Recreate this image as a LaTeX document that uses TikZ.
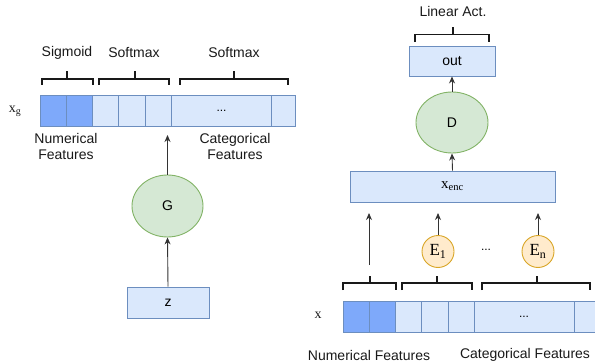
\documentclass[tikz,border=0pt]{standalone}
\usepackage{fontspec}
\setmainfont{Liberation Sans}
\newfontfamily\srf{Liberation Serif}
\usetikzlibrary{arrows.meta,shapes.geometric}
\definecolor{cellfill}{HTML}{DAE8FC}
\definecolor{celldraw}{HTML}{6C8EBF}
\definecolor{darkfill}{HTML}{7EA9FA}
\definecolor{gfill}{HTML}{D5E8D4}
\definecolor{gdraw}{HTML}{82B366}
\definecolor{efill}{HTML}{FFEBCC}
\definecolor{edraw}{HTML}{D9A627}
\tikzset{
  x=1pt, y=-1pt,
  txt/.style={font=\fontsize{14}{16}\selectfont, inner sep=0pt, align=center, text=black!90},
  stxt/.style={font=\fontsize{14}{16}\srf, inner sep=0pt, text=black!90},
  cell/.style={draw=celldraw, fill=cellfill, line width=0.9pt, minimum height=31, inner sep=0pt, font=\fontsize{12}{14}\selectfont},
  dcell/.style={cell, fill=darkfill},
  ell/.style={ellipse, draw=gdraw, fill=gfill, line width=0.9pt, inner sep=0pt, font=\fontsize{14}{16}\selectfont},
  enc/.style={circle, draw=edraw, fill=efill, line width=0.9pt, inner sep=0pt, minimum size=32, font=\fontsize{17}{18}\srf},
  brk/.style={line width=1.6pt, black!90},
  arr/.style={line width=0.9pt, black!80, -{Stealth[length=7pt,width=6pt]}}
}
\begin{document}
\begin{tikzpicture}
\useasboundingbox (0,0) rectangle (595,364);
% ---------- left: generator ----------
\node[dcell, minimum width=26] (l1) at (53,110.5) {};
\node[dcell, minimum width=26] (l2) at (79,110.5) {};
\node[cell, minimum width=26.5] (l3) at (105.25,110.5) {};
\node[cell, minimum width=26.5] (l4) at (131.75,110.5) {};
\node[cell, minimum width=26.5] (l5) at (158.25,110.5) {};
\node[cell, minimum width=100] (l6) at (221.5,110.5) {...};
\node[cell, minimum width=23.5] (l7) at (283.25,110.5) {};
\node[stxt] (xg) at (15,111) {x\textsubscript{g}};
\node[txt] (sig) at (67,53) {Sigmoid};
\node[txt] (sm1) at (134,53) {Softmax};
\node[txt] (sm2) at (234,53) {Softmax};
\node[txt] (nf1) at (66,146) {Numerical\\Features};
\node[txt] (cf1) at (235,146) {Categorical\\Features};
\draw[brk] (41.7,84.5) -- (41.7,79) -- (92.7,79) -- (92.7,84.5);
\draw[brk] (66.7,79) -- (66.7,70.7);
\draw[brk] (99,84.5) -- (99,79) -- (169,79) -- (169,84.5);
\draw[brk] (134.7,79) -- (134.7,70.7);
\draw[brk] (180,84.5) -- (180,79) -- (288,79) -- (288,84.5);
\draw[brk] (234,79) -- (234,70.7);
\node[ell, minimum width=71, minimum height=62] (G) at (167.5,206) {G};
\node[cell, minimum width=82] (z) at (168,302.5) {\fontsize{14}{16}\selectfont z};
\coordinate (gtip) at (167.5,135);
\draw[arr] (z.north) -- (G.south);
\draw[arr] (G.north) -- (gtip);
% ---------- right: discriminator ----------
\node[txt] (lin) at (453,11) {Linear Act.};
\draw[brk] (415,42) -- (415,34.3) -- (489,34.3) -- (489,42);
\draw[brk] (452.7,34.3) -- (452.7,27);
\node[cell, minimum width=86, minimum height=30, font=\fontsize{14}{16}\selectfont] (out) at (452,61) {out};
\node[ell, minimum width=72, minimum height=61] (D) at (452,122.5) {D};
\node[cell, minimum width=205] (xenc) at (452.5,186.5) {\fontsize{15}{16}\srf x\textsubscript{enc}};
\draw[arr] (D.north) -- (out.south);
\draw[arr] (xenc.north) -- (D.south);
\node[enc] (e1) at (438,251.5) {E\textsubscript{1}};
\node[enc] (en) at (538,251.5) {E\textsubscript{n}};
\node[font=\fontsize{12}{14}\selectfont, inner sep=0pt] (dots) at (486,250) {...};
\coordinate (a0s) at (369,265);
\coordinate (a0t) at (369,213);
\coordinate (a1t) at (438,213);
\coordinate (a2t) at (538,213);
\draw[arr] (a0s) -- (a0t);
\draw[arr] (e1.north) -- (a1t);
\draw[arr] (en.north) -- (a2t);
\draw[brk] (343,290) -- (343,283) -- (396,283) -- (396,290);
\draw[brk] (370,283) -- (370,276);
\draw[brk] (402,290) -- (402,283) -- (472,283) -- (472,290);
\draw[brk] (436.7,283) -- (436.7,276);
\draw[brk] (482,290) -- (482,283) -- (590,283) -- (590,290);
\draw[brk] (537,283) -- (537,276);
\node[dcell, minimum width=26] (r1) at (356,316.5) {};
\node[dcell, minimum width=26] (r2) at (382,316.5) {};
\node[cell, minimum width=26] (r3) at (408,316.5) {};
\node[cell, minimum width=27] (r4) at (434.5,316.5) {};
\node[cell, minimum width=26] (r5) at (461,316.5) {};
\node[cell, minimum width=100] (r6) at (524,316.5) {...};
\node[cell, minimum width=26] (r7) at (587,316.5) {};
\node[stxt] (xl) at (318,315) {x};
\node[txt] (nf2) at (369,355) {Numerical Features};
\node[txt] (cf2) at (525,355) {Categorical Features};
\end{tikzpicture}
\end{document}
